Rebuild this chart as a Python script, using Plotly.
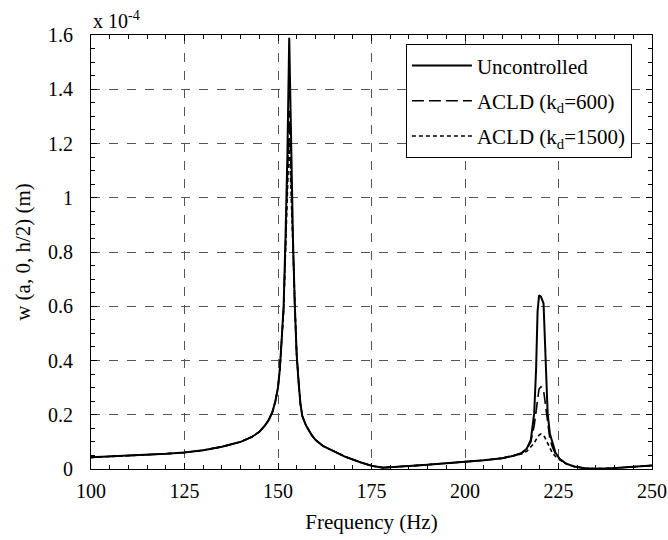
import plotly.graph_objects as go

freq = [100,105,110,115,120,125,130,135,140,143,145,146.5,147.5,148.5,149.3,
        150,150.5,151,151.5,152,152.5,153,153.5,154,154.5,
        155,155.5,156,156.5,157.5,159,160,162,165,168,
        172,175,178,180,185,190,195,200,205,210,
        213,215,216.5,217.6,218.5,219.0,219.4,219.8,220.3,221.0,
        221.3,221.65,222.1,222.7,223.4,224.2,225.2,227,229.2,232,
        234.5,237,239.5,245,250]

uncontrolled = [0.043,0.046,0.049,0.052,0.056,0.061,0.069,0.082,0.100,0.118,0.137,0.16,0.18,0.21,0.25,
                0.30,0.37,0.48,0.60,0.85,1.15,1.59,1.15,0.85,0.60,
                0.42,0.32,0.24,0.195,0.16,0.125,0.108,0.085,0.064,0.045,
                0.025,0.012,0.005,0.006,0.011,0.016,0.021,0.026,0.032,0.040,
                0.049,0.058,0.075,0.107,0.205,0.365,0.58,0.64,0.635,0.61,
                0.50,0.365,0.205,0.13,0.095,0.06,0.039,0.02,0.009,0.003,
                0.001,0.001,0.003,0.008,0.013]

acld_600 = [0.043,0.046,0.049,0.052,0.056,0.061,0.069,0.082,0.100,0.118,0.137,0.16,0.18,0.21,0.25,
            0.30,0.37,0.48,0.59,0.82,1.08,1.32,1.08,0.82,0.59,
            0.42,0.32,0.24,0.195,0.16,0.125,0.108,0.085,0.064,0.045,
            0.025,0.012,0.005,0.006,0.011,0.016,0.021,0.026,0.032,0.040,
            0.049,0.057,0.072,0.10,0.16,0.22,0.27,0.295,0.303,0.29,
            0.26,0.22,0.16,0.11,0.08,0.055,0.038,0.02,0.009,0.003,
            0.001,0.001,0.003,0.008,0.013]

acld_1500 = [0.043,0.046,0.049,0.052,0.056,0.061,0.069,0.082,0.100,0.118,0.137,0.16,0.18,0.21,0.25,
             0.30,0.37,0.48,0.58,0.80,1.02,1.22,1.02,0.80,0.58,
             0.42,0.32,0.24,0.195,0.16,0.125,0.108,0.085,0.064,0.045,
             0.025,0.012,0.005,0.006,0.011,0.016,0.021,0.026,0.032,0.040,
             0.049,0.055,0.065,0.08,0.095,0.108,0.118,0.125,0.129,0.124,
             0.118,0.108,0.095,0.075,0.058,0.046,0.035,0.02,0.009,0.003,
             0.001,0.001,0.003,0.008,0.013]

x_ticks = [100,125,150,175,200,225,250]
y_ticks = [0,0.2,0.4,0.6,0.8,1.0,1.2,1.4,1.6]
y_tick_labels = ["0","0.2","0.4","0.6","0.8","1","1.2","1.4","1.6"]

FONT = "Liberation Serif"

fig = go.Figure()
fig.add_trace(go.Scatter(x=freq, y=uncontrolled, mode="lines", name="Uncontrolled",
                         legendgroup="g1", line=dict(color="black", width=2)))
fig.add_trace(go.Scatter(x=freq, y=acld_600, mode="lines", name="ACLD (k<sub>d</sub>=600)",
                         legendgroup="g2", line=dict(color="black", width=1.6, dash="12px,5px")))
fig.add_trace(go.Scatter(x=freq, y=acld_1500, mode="lines", name="ACLD (k<sub>d</sub>=1500)",
                         legendgroup="g3", line=dict(color="black", width=1.6, dash="4px,3px")))

axis_common = dict(showline=True, linecolor="black", linewidth=1.2, mirror="ticks",
                   ticks="inside", ticklen=6, tickcolor="black",
                   showgrid=True, gridcolor="#555555", griddash="dash", gridwidth=1,
                   zeroline=False, automargin=False,
                   tickfont=dict(family=FONT, size=20, color="black"))

fig.update_xaxes(range=[100,250], tickvals=x_ticks, ticklabelstandoff=4,
                 minor=dict(ticks="inside", dtick=5, ticklen=4, tickcolor="black", showgrid=False),
                 title=dict(text="Frequency (Hz)", font=dict(family=FONT, size=21, color="black"), standoff=13),
                 **axis_common)
fig.update_yaxes(range=[0,1.6], tickvals=y_ticks, ticktext=y_tick_labels, ticklabelstandoff=13,
                 minor=dict(ticks="inside", dtick=0.05, ticklen=4, tickcolor="black", showgrid=False),
                 title=dict(text="w (a, 0, h/2) (m)", font=dict(family=FONT, size=21, color="black"), standoff=11),
                 **axis_common)

fig.add_annotation(text="x 10<sup>-4</sup>", xref="paper", yref="paper", x=0, y=1.0,
                   xanchor="left", yanchor="bottom", showarrow=False, yshift=1,
                   font=dict(family=FONT, size=20, color="black"))

fig.update_layout(
    width=668, height=540,
    margin=dict(l=91, r=16, t=35, b=71),
    plot_bgcolor="white", paper_bgcolor="white",
    font=dict(family=FONT, size=20, color="black"),
    legend=dict(x=0.561, y=0.979, xanchor="left", yanchor="top",
                bgcolor="white", bordercolor="black", borderwidth=1.2,
                itemwidth=60, tracegroupgap=5,
                font=dict(family=FONT, size=21, color="black")),
)

fig.write_html("out.html")
